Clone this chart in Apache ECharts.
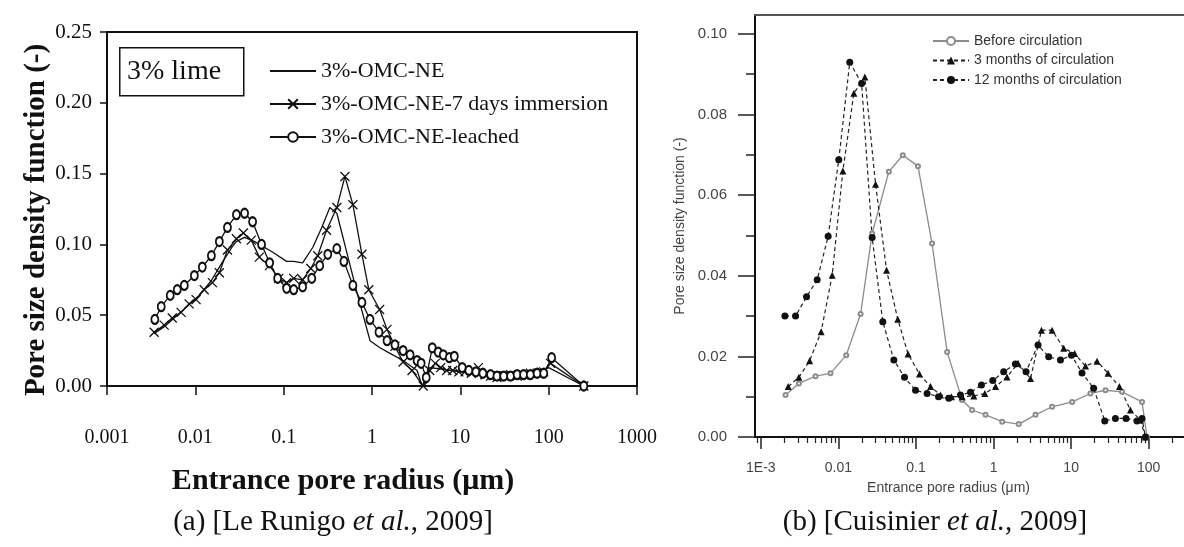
<!DOCTYPE html>
<html>
<head>
<meta charset="utf-8">
<title>Pore size density function</title>
<script src="https://cdn.jsdelivr.net/npm/echarts@6/dist/echarts.min.js"></script>
<style>
    html, body { margin: 0; padding: 0; background: #fff; }
    #main { width: 1184px; height: 547px; }
</style>
</head>
<body>
<div id="main"></div>
<script>
// ---- (a) Le Runigo et al., 2009 : 3% lime ----
var baseRadius = [0.0034, 0.0045, 0.006, 0.008, 0.011, 0.015, 0.02, 0.026, 0.029, 0.036, 0.047, 0.073, 0.108, 0.13, 0.164, 0.214, 0.27, 0.333, 0.40, 0.52, 0.676, 0.95, 1.23, 1.6, 2.25, 3.24, 3.7, 4.5, 6, 8, 12, 20, 40, 70, 100, 250];
var baseDensity = [0.037, 0.042, 0.049, 0.056, 0.064, 0.074, 0.087, 0.098, 0.102, 0.105, 0.102, 0.095, 0.088, 0.088, 0.087, 0.098, 0.112, 0.126, 0.122, 0.094, 0.066, 0.032, 0.027, 0.023, 0.018, 0.011, 0, 0.013, 0.012, 0.011, 0.010, 0.010, 0.010, 0.010, 0.013, 0];

var immersionRadius = [0.00342, 0.00444, 0.00548, 0.0069, 0.0085, 0.0102, 0.0126, 0.0156, 0.0187, 0.0231, 0.0292, 0.035, 0.043, 0.053, 0.069, 0.088, 0.108, 0.13, 0.164, 0.203, 0.243, 0.306, 0.40, 0.494, 0.608, 0.769, 0.92, 1.22, 1.48, 1.82, 2.25, 2.84, 3.8, 4.5, 5.2, 6, 7, 8.2, 9.6, 11.3, 13.3, 16, 19, 22, 26, 31, 37, 44, 52, 62, 74, 88, 105, 250];
var immersionDensity = [0.038, 0.043, 0.048, 0.052, 0.058, 0.061, 0.068, 0.073, 0.080, 0.096, 0.104, 0.108, 0.103, 0.091, 0.085, 0.076, 0.073, 0.076, 0.075, 0.083, 0.092, 0.110, 0.126, 0.148, 0.128, 0.093, 0.068, 0.054, 0.040, 0.028, 0.017, 0.011, 0, 0.011, 0.016, 0.013, 0.011, 0.011, 0.010, 0.010, 0.009, 0.013, 0.008, 0.007, 0.006, 0.007, 0.008, 0.007, 0.008, 0.009, 0.009, 0.010, 0.016, 0];

var leachedRadius = [0.00348, 0.00411, 0.0052, 0.00624, 0.0075, 0.00975, 0.012, 0.0152, 0.0187, 0.0231, 0.0292, 0.0361, 0.0445, 0.0562, 0.0693, 0.0855, 0.108, 0.13, 0.164, 0.208, 0.256, 0.316, 0.40, 0.481, 0.608, 0.769, 0.949, 1.2, 1.48, 1.82, 2.25, 2.7, 3.24, 3.6, 4.11, 4.81, 5.62, 6.41, 7.5, 8.55, 10.5, 12.5, 15, 18, 22, 26, 31, 37, 44, 52, 62, 74, 88, 108, 250];
var leachedDensity = [0.047, 0.056, 0.064, 0.068, 0.071, 0.078, 0.084, 0.092, 0.102, 0.112, 0.121, 0.122, 0.116, 0.100, 0.087, 0.076, 0.069, 0.068, 0.070, 0.076, 0.085, 0.093, 0.097, 0.088, 0.071, 0.059, 0.047, 0.038, 0.032, 0.029, 0.025, 0.022, 0.018, 0.016, 0.006, 0.027, 0.024, 0.022, 0.020, 0.021, 0.013, 0.011, 0.010, 0.009, 0.008, 0.007, 0.007, 0.007, 0.008, 0.008, 0.008, 0.009, 0.009, 0.020, 0];

var xTicksA = [0.001, 0.01, 0.1, 1, 10, 100, 1000];
var xLabelsA = ['0.001', '0.01', '0.1', '1', '10', '100', '1000'];

// ---- (b) Cuisinier et al., 2009 ----
var beforeRadius = [0.00208, 0.00309, 0.00507, 0.0079, 0.0126, 0.0193, 0.0272, 0.0446, 0.0676, 0.106, 0.161, 0.252, 0.393, 0.528, 0.787, 1.29, 2.11, 3.47, 5.68, 10.3, 17.7, 27.7, 45.3, 82, 95];
var beforeDensity = [0.0104, 0.0133, 0.0151, 0.0158, 0.0203, 0.0305, 0.0505, 0.0658, 0.0699, 0.0672, 0.048, 0.0211, 0.0092, 0.0067, 0.0055, 0.0038, 0.0032, 0.0055, 0.0075, 0.0087, 0.0108, 0.0116, 0.0112, 0.0087, 0];

var threeRadius = [0.00225, 0.00309, 0.00425, 0.00598, 0.0083, 0.0114, 0.0158, 0.0219, 0.0301, 0.0417, 0.0582, 0.079, 0.111, 0.154, 0.207, 0.286, 0.393, 0.556, 0.771, 1.06, 1.49, 2.07, 2.99, 4.14, 5.68, 8.03, 11.1, 15.3, 21.6, 29.9, 41.9, 58.1, 78.2, 90.6];
var threeDensity = [0.0125, 0.0148, 0.0189, 0.0261, 0.0401, 0.066, 0.0853, 0.0893, 0.0627, 0.0414, 0.0292, 0.0206, 0.0156, 0.0125, 0.0104, 0.0100, 0.0100, 0.0102, 0.0108, 0.0125, 0.0149, 0.0183, 0.0145, 0.0265, 0.0265, 0.0220, 0.0207, 0.0176, 0.0188, 0.0158, 0.0125, 0.0067, 0.0042, 0];

var twelveRadius = [0.00204, 0.0028, 0.00388, 0.00532, 0.00737, 0.0101, 0.014, 0.0199, 0.0272, 0.0373, 0.0518, 0.0711, 0.0986, 0.139, 0.195, 0.265, 0.374, 0.504, 0.698, 0.977, 1.35, 1.91, 2.62, 3.74, 5.14, 7.28, 10.1, 13.8, 19.5, 27.1, 37.2, 51, 70.6, 82, 90.6];
var twelveDensity = [0.030, 0.030, 0.0348, 0.039, 0.0498, 0.0688, 0.093, 0.0877, 0.0495, 0.0286, 0.0191, 0.0148, 0.0116, 0.0108, 0.0100, 0.0096, 0.0104, 0.0111, 0.0129, 0.0140, 0.0162, 0.0181, 0.0162, 0.0228, 0.0199, 0.0191, 0.0203, 0.0159, 0.0121, 0.0040, 0.0046, 0.0046, 0.0040, 0.0046, 0];

var xTicksB = [0.001, 0.01, 0.1, 1, 10, 100];
var xLabelsB = ['1E-3', '0.01', '0.1', '1', '10', '100'];
var yTicksB = [0, 0.02, 0.04, 0.06, 0.08, 0.10];
var yMinorB = [0.01, 0.03, 0.05, 0.07, 0.09];

var serifFont = '"Liberation Serif", "DejaVu Serif", serif';
var sansFont = '"Liberation Sans", Arial, sans-serif';

// minor log ticks 2..9 of every decade, inside the axis range
var xMinorB = [0.0009];
for (var d = -3; d <= 2; d++) {
    for (var m = 2; m <= 9; m++) {
        var v = m * Math.pow(10, d);
        if (v < 285) xMinorB.push(v);
    }
}

function pairs(xs, ys) {
    var out = [];
    for (var i = 0; i < xs.length; i++) {
        out.push([xs[i], ys[i]]);
    }
    return out;
}

function logLabel(ticks, labels) {
    return function (v) {
        for (var i = 0; i < ticks.length; i++) {
            if (Math.abs(Math.log10(v) - Math.log10(ticks[i])) < 1e-6) {
                return labels[i];
            }
        }
        return '';
    };
}

var crossSymbol = 'path://M0,0L10,10M10,0L0,10';

var option = {
    animation: false,
    backgroundColor: '#fff',
    grid: [
        {left: 107, top: 32, width: 530, height: 354, show: true, borderColor: '#111', borderWidth: 2},
        {left: 755, top: 15, width: 429, height: 422}
    ],
    legend: [
        {
            data: [
                {name: '3%-OMC-NE', itemStyle: {opacity: 0}},
                '3%-OMC-NE-7 days immersion',
                '3%-OMC-NE-leached'
            ],
            orient: 'vertical',
            left: 264,
            top: 55,
            itemWidth: 46,
            itemHeight: 12,
            itemGap: 11,
            textStyle: {fontFamily: serifFont, fontSize: 22, color: '#111'}
        },
        {
            data: ['Before circulation', '3 months of circulation', '12 months of circulation'],
            orient: 'vertical',
            left: 927,
            top: 29,
            itemWidth: 36,
            itemHeight: 10,
            itemGap: 5.5,
            textStyle: {fontFamily: sansFont, fontSize: 14, color: '#333'}
        }
    ],
    xAxis: [
        {
            gridIndex: 0,
            type: 'log',
            min: 0.001,
            max: 1000,
            axisLine: {lineStyle: {color: '#111', width: 2}},
            axisTick: {length: 9, customValues: xTicksA, lineStyle: {color: '#111', width: 1.5}},
            axisLabel: {
                customValues: xTicksA,
                formatter: logLabel(xTicksA, xLabelsA),
                margin: 42,
                fontFamily: serifFont,
                fontSize: 20,
                color: '#111'
            },
            splitLine: {show: false},
            name: 'Entrance pore radius (μm)',
            nameLocation: 'middle',
            nameGap: 80,
            nameTextStyle: {fontFamily: serifFont, fontSize: 30, fontWeight: 'bold', color: '#111', padding: [0, 58, 0, 0]}
        },
        {
            gridIndex: 1,
            type: 'log',
            position: 'bottom',
            min: 0.00084,
            max: 285,
            axisLine: {lineStyle: {color: '#111', width: 2}},
            axisTick: {length: 12, customValues: xTicksB, lineStyle: {color: '#222', width: 1.5}},
            axisLabel: {
                customValues: xTicksB,
                formatter: logLabel(xTicksB, xLabelsB),
                margin: 24,
                fontFamily: sansFont,
                fontSize: 14,
                color: '#444'
            },
            splitLine: {show: false},
            name: 'Entrance pore radius (μm)',
            nameLocation: 'middle',
            nameGap: 44,
            nameTextStyle: {fontFamily: sansFont, fontSize: 14, color: '#444', padding: [0, 42, 0, 0]}
        },
        {
            gridIndex: 1,
            type: 'log',
            position: 'bottom',
            min: 0.00084,
            max: 285,
            axisLine: {show: false},
            axisTick: {length: 6, customValues: xMinorB, lineStyle: {color: '#222', width: 1.2}},
            axisLabel: {show: false},
            splitLine: {show: false}
        },
        {
            gridIndex: 1,
            type: 'value',
            position: 'top',
            min: 0,
            max: 1,
            axisLine: {lineStyle: {color: '#555', width: 2}},
            axisTick: {show: false},
            axisLabel: {show: false},
            splitLine: {show: false}
        }
    ],
    yAxis: [
        {
            gridIndex: 0,
            type: 'value',
            min: 0,
            max: 0.25,
            interval: 0.05,
            axisLine: {show: true, lineStyle: {color: '#111', width: 2}},
            axisTick: {show: true, length: 7, lineStyle: {color: '#111', width: 1.5}},
            axisLabel: {
                formatter: function (v) { return v.toFixed(2); },
                margin: 15,
                fontFamily: serifFont,
                fontSize: 21,
                color: '#111'
            },
            splitLine: {show: false},
            name: 'Pore size density function (-)',
            nameLocation: 'middle',
            nameGap: 56,
            nameTextStyle: {fontFamily: serifFont, fontSize: 29, fontWeight: 'bold', color: '#111', padding: [0, 22, 0, 0]}
        },
        {
            gridIndex: 1,
            type: 'value',
            min: 0,
            max: 0.1047,
            axisLine: {show: true, lineStyle: {color: '#111', width: 2}},
            axisTick: {show: true, length: 17, customValues: yTicksB, lineStyle: {color: '#222', width: 1.5}},
            axisLabel: {
                customValues: yTicksB,
                formatter: function (v) { return v.toFixed(2); },
                margin: 28,
                fontFamily: sansFont,
                fontSize: 15,
                color: '#444'
            },
            splitLine: {show: false},
            name: 'Pore size density function (-)',
            nameLocation: 'middle',
            nameGap: 68,
            nameTextStyle: {fontFamily: sansFont, fontSize: 14, color: '#444'}
        },
        {
            gridIndex: 1,
            type: 'value',
            position: 'left',
            min: 0,
            max: 0.1047,
            axisLine: {show: false},
            axisTick: {show: true, length: 9, customValues: yMinorB, lineStyle: {color: '#222', width: 1.5}},
            axisLabel: {show: false},
            splitLine: {show: false}
        }
    ],
    series: [
        {
            name: '3%-OMC-NE',
            type: 'line',
            xAxisIndex: 0,
            yAxisIndex: 0,
            showSymbol: false,
            symbol: 'none',
            color: '#111',
            lineStyle: {color: '#111', width: 1.3},
            data: pairs(baseRadius, baseDensity)
        },
        {
            name: '3%-OMC-NE-7 days immersion',
            type: 'line',
            xAxisIndex: 0,
            yAxisIndex: 0,
            symbol: crossSymbol,
            symbolSize: 9,
            color: '#111',
            lineStyle: {color: '#111', width: 1.3},
            itemStyle: {color: '#111', borderColor: '#111', borderWidth: 1.3},
            data: pairs(immersionRadius, immersionDensity)
        },
        {
            name: '3%-OMC-NE-leached',
            type: 'line',
            xAxisIndex: 0,
            yAxisIndex: 0,
            symbol: 'emptyCircle',
            symbolSize: [7, 9],
            color: '#111',
            lineStyle: {color: '#111', width: 1.3},
            itemStyle: {color: '#111', borderColor: '#111', borderWidth: 1.3},
            data: pairs(leachedRadius, leachedDensity)
        },
        {
            name: 'Before circulation',
            type: 'line',
            xAxisIndex: 1,
            yAxisIndex: 1,
            symbol: 'emptyCircle',
            symbolSize: 4,
            color: '#8c8c8c',
            lineStyle: {color: '#8c8c8c', width: 1.3},
            itemStyle: {color: '#8c8c8c', borderColor: '#9a9a9a', borderWidth: 1},
            data: pairs(beforeRadius, beforeDensity)
        },
        {
            name: '3 months of circulation',
            type: 'line',
            xAxisIndex: 1,
            yAxisIndex: 1,
            symbol: 'triangle',
            symbolSize: 7,
            color: '#111',
            lineStyle: {color: '#222', width: 1.2, type: [4, 3]},
            itemStyle: {color: '#111'},
            data: pairs(threeRadius, threeDensity)
        },
        {
            name: '12 months of circulation',
            type: 'line',
            xAxisIndex: 1,
            yAxisIndex: 1,
            symbol: 'circle',
            symbolSize: 7,
            color: '#111',
            lineStyle: {color: '#222', width: 1.2, type: [4, 3]},
            itemStyle: {color: '#111'},
            data: pairs(twelveRadius, twelveDensity)
        }
    ],
    graphic: [
        {
            type: 'rect',
            left: 119,
            top: 47,
            shape: {width: 124, height: 48},
            style: {fill: '#fff', stroke: '#111', lineWidth: 1.5}
        },
        {
            type: 'text',
            x: 127,
            y: 72,
            style: {text: '3% lime', fill: '#111', font: '28px "Liberation Serif"', verticalAlign: 'middle'}
        },
        {
            type: 'text',
            x: 333,
            y: 522,
            style: {
                text: '{n|(a) [Le Runigo }{i|et al.}{n|, 2009]}',
                align: 'center',
                verticalAlign: 'middle',
                rich: {
                    n: {fontFamily: serifFont, fontSize: 29, fill: '#111'},
                    i: {fontFamily: serifFont, fontSize: 29, fontStyle: 'italic', fill: '#111'}
                }
            }
        },
        {
            type: 'text',
            x: 935,
            y: 522,
            style: {
                text: '{n|(b) [Cuisinier }{i|et al.}{n|, 2009]}',
                align: 'center',
                verticalAlign: 'middle',
                rich: {
                    n: {fontFamily: serifFont, fontSize: 29, fill: '#111'},
                    i: {fontFamily: serifFont, fontSize: 29, fontStyle: 'italic', fill: '#111'}
                }
            }
        }
    ]
};

var myChart = echarts.init(document.getElementById('main'));
myChart.setOption(option);
</script>
</body>
</html>
